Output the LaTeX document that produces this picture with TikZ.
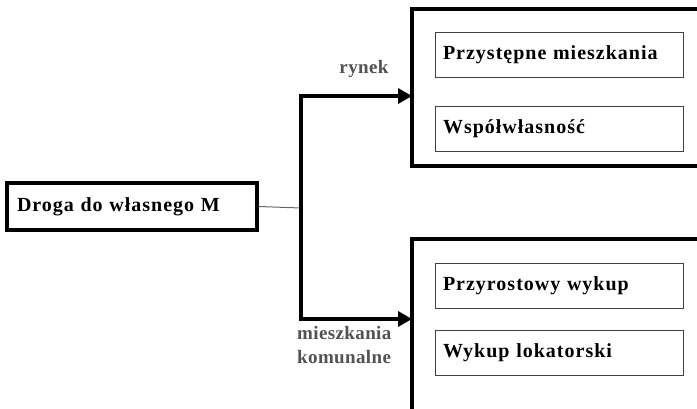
\documentclass[tikz,border=0pt]{standalone}
\usepackage{fontspec}
\setmainfont{Liberation Serif}
\newfontfamily\boxfont[LetterSpace=5]{Liberation Serif}
\newfontfamily\lblfont[LetterSpace=2]{Liberation Serif}
\usetikzlibrary{arrows.meta}
\begin{document}
\begin{tikzpicture}[x=1pt,y=-1pt,
  mainbox/.style={draw=black,line width=3.2pt,rectangle,minimum width=250pt,minimum height=47pt,
     text width=230pt,align=left,inner xsep=10pt,font=\boxfont\bfseries\fontsize{20}{22}\selectfont},
  groupbox/.style={draw=black,line width=3.2pt},
  itembox/.style={draw=black!75,line width=1pt,rectangle,minimum width=248pt,minimum height=45pt,
     text width=232pt,align=left,inner xsep=8pt,font=\boxfont\bfseries\fontsize{20}{22}\selectfont},
  conn/.style={line width=4pt,line join=miter},
  arr/.style={-{Triangle[length=14pt,width=15pt]}},
  thinline/.style={draw=black!60,line width=1pt},
  lbl/.style={text=black!68,font=\lblfont\bfseries\fontsize{19}{24}\selectfont,inner sep=0pt}]
\useasboundingbox (0,0) rectangle (697,408);
\begin{scope}
\clip (0,0) rectangle (697,408);
\draw[groupbox] (412,9) rectangle (710,166);
\draw[groupbox] (412,239) rectangle (710,420);
\end{scope}
\coordinate (topin) at (412,96);
\coordinate (botin) at (412,319);
\node[mainbox] (droga) at (132,206.5) {Droga do własnego M};
\node[itembox] (i1) at (559,54.5) {Przystępne mieszkania};
\node[itembox] (i2) at (559,129) {Współwłasność};
\node[itembox] (i3) at (559,285.5) {Przyrostowy wykup};
\node[itembox] (i4) at (559,352.5) {Wykup lokatorski};
\coordinate (j) at (301,208);
\coordinate (jt) at (301,96);
\coordinate (jb) at (301,319);
\draw[thinline] (droga.east) -- (j);
\draw[conn,arr] (j) -- (jt) -- (topin);
\draw[conn,arr] (j) -- (jb) -- (botin);
\node[lbl,anchor=base] (rynek) at (364,73) {rynek};
\node[lbl,anchor=north west,align=left] (kom) at (297,326) {mieszkania\\komunalne};
\end{tikzpicture}
\end{document}
